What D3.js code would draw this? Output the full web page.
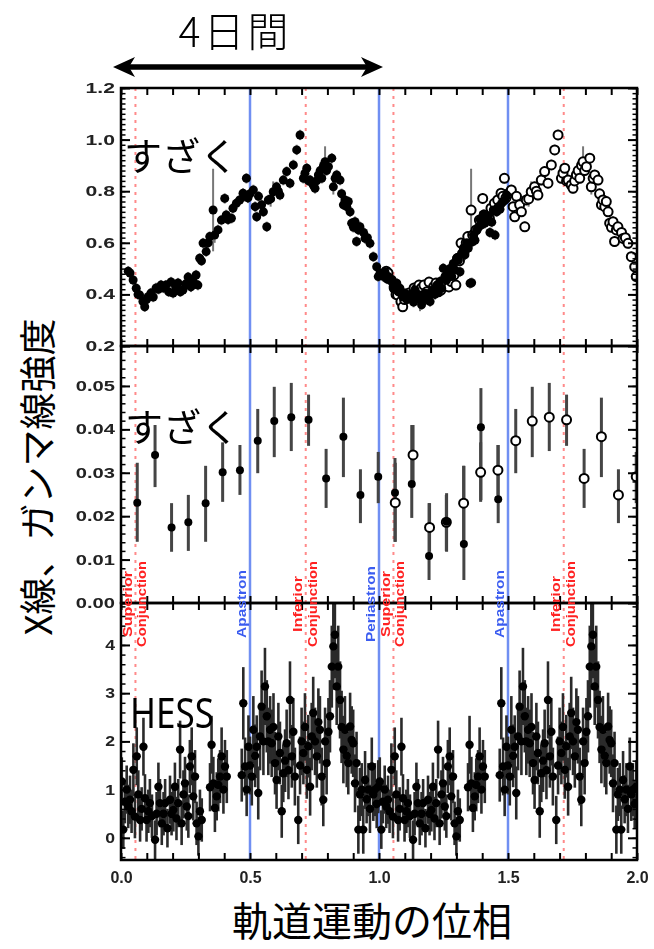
<!DOCTYPE html>
<html lang="ja">
<head>
<meta charset="UTF-8">
<title>すざく・HESS 軌道位相</title>
<script src="https://cdn.jsdelivr.net/npm/d3@7"></script>
<style>
  body { margin: 0; background: #fff; }
  svg { display: block; }
  .jp { font-family: "Noto Sans CJK JP", sans-serif; fill: #000; }
  .tick text { font-family: "Liberation Sans", Arial, sans-serif; font-weight: bold; fill: #222; }
  .ylab .tick text { font-size: 14px; }
  .xlab .tick text { font-size: 16px; }
  .domain { display: none; }
  .ev { font-family: "Liberation Sans", Arial, sans-serif; font-weight: bold; font-size: 12.5px; }
</style>
</head>
<body>
<div id="chart"></div>
<script>
  // tick values
  const phaseTicks = [0, 0.5, 1, 1.5, 2];
  const topTicks = [0.2, 0.4, 0.6, 0.8, 1.0, 1.2];
  const midTicks = [0, 0.01, 0.02, 0.03, 0.04, 0.05];
  const botTicks = [0, 1, 2, 3, 4];

  // orbital events: phase, label lines, colour kind
  const events = [
    {phase: 0.056, lines: ['Superior', 'Conjunction'], kind: 'conj'},
    {phase: 0.5,   lines: ['Apastron'], kind: 'apsis'},
    {phase: 0.716, lines: ['Inferior', 'Conjunction'], kind: 'conj'},
    {phase: 1.0,   lines: ['Periastron'], kind: 'apsis'},
    {phase: 1.056, lines: ['Superior', 'Conjunction'], kind: 'conj'},
    {phase: 1.5,   lines: ['Apastron'], kind: 'apsis'},
    {phase: 1.716, lines: ['Inferior', 'Conjunction'], kind: 'conj'}
  ];

  // Suzaku X-ray (top), first orbit: [phase, rate, err]
  const suzakuTop1 = [
    [0.028,0.49,0.02],[0.035,0.483,0.02],[0.047,0.456,0.02],[0.059,0.424,0.02],[0.066,0.40,0.02],
    [0.072,0.398,0.02],[0.085,0.372,0.02],[0.092,0.352,0.02],[0.099,0.38,0.02],[0.105,0.391,0.02],
    [0.116,0.405,0.02],[0.125,0.39,0.02],[0.136,0.425,0.02],[0.145,0.42,0.02],[0.155,0.436,0.02],
    [0.165,0.425,0.02],[0.174,0.436,0.02],[0.185,0.41,0.02],[0.194,0.448,0.02],[0.202,0.405,0.02],
    [0.212,0.43,0.02],[0.221,0.444,0.02],[0.230,0.41,0.02],[0.240,0.417,0.02],[0.250,0.44,0.02],
    [0.260,0.467,0.02],[0.271,0.429,0.02],[0.280,0.45,0.02],[0.291,0.475,0.02],[0.298,0.436,0.02],
    [0.305,0.54,0.02],[0.312,0.53,0.02],[0.318,0.599,0.02],[0.330,0.566,0.02],[0.338,0.60,0.02],
    [0.344,0.624,0.02],[0.357,0.727,0.16],[0.363,0.630,0.03],[0.376,0.650,0.02],[0.389,0.688,0.02],
    [0.402,0.772,0.02],[0.408,0.708,0.02],[0.415,0.69,0.02],[0.428,0.695,0.02],[0.434,0.734,0.02],
    [0.447,0.753,0.02],[0.460,0.766,0.02],[0.473,0.792,0.02],[0.480,0.78,0.02],[0.486,0.850,0.02],
    [0.492,0.774,0.02],[0.500,0.79,0.02],[0.513,0.805,0.02],[0.520,0.74,0.02],[0.526,0.701,0.02],
    [0.533,0.78,0.02],[0.545,0.747,0.02],[0.552,0.72,0.02],[0.565,0.662,0.02],[0.571,0.766,0.02],
    [0.580,0.77,0.03],[0.590,0.798,0.04],[0.603,0.817,0.02],[0.610,0.80,0.02],[0.616,0.785,0.02],
    [0.629,0.843,0.02],[0.642,0.876,0.02],[0.655,0.831,0.02],[0.668,0.902,0.02],[0.681,0.960,0.02],
    [0.694,1.018,0.02],[0.707,0.850,0.02],[0.713,0.87,0.02],[0.720,0.889,0.02],[0.727,0.84,0.02],
    [0.733,0.843,0.02],[0.745,0.824,0.02],[0.752,0.811,0.02],[0.758,0.84,0.02],[0.765,0.863,0.02],
    [0.772,0.88,0.02],[0.778,0.850,0.02],[0.785,0.90,0.02],[0.791,0.914,0.06],[0.797,0.88,0.02],
    [0.804,0.895,0.02],[0.817,0.928,0.02],[0.823,0.817,0.03],[0.830,0.85,0.02],[0.836,0.863,0.02],
    [0.849,0.843,0.02],[0.855,0.79,0.02],[0.862,0.747,0.02],[0.868,0.766,0.02],[0.875,0.74,0.02],
    [0.881,0.760,0.02],[0.888,0.72,0.02],[0.894,0.676,0.02],[0.901,0.66,0.02],[0.907,0.682,0.02],
    [0.913,0.605,0.02],[0.920,0.65,0.02],[0.926,0.662,0.02],[0.940,0.64,0.02],[0.946,0.617,0.02],
    [0.955,0.62,0.02],[0.965,0.598,0.02],[0.978,0.546,0.02],[0.991,0.507,0.02],[0.997,0.469,0.02]
  ];

  // Suzaku X-ray (top), second orbit
  const suzakuTop2 = [
    [1.004,0.482,0.02],[1.016,0.47,0.02],[1.023,0.488,0.02],[1.030,0.46,0.02],[1.036,0.469,0.02],
    [1.049,0.456,0.02],[1.055,0.43,0.02],[1.062,0.42,0.02],[1.069,0.443,0.02],[1.075,0.41,0.02],
    [1.081,0.424,0.02],[1.088,0.40,0.02],[1.094,0.39,0.02],[1.101,0.404,0.02],[1.108,0.38,0.02],
    [1.114,0.385,0.02],[1.120,0.40,0.02],[1.127,0.398,0.02],[1.134,0.37,0.02],[1.140,0.417,0.02],
    [1.146,0.39,0.02],[1.152,0.40,0.02],[1.159,0.385,0.05],[1.165,0.36,0.02],[1.172,0.39,0.02],
    [1.178,0.404,0.02],[1.185,0.38,0.02],[1.191,0.40,0.03],[1.198,0.372,0.02],[1.204,0.410,0.02],
    [1.211,0.42,0.02],[1.217,0.40,0.02],[1.224,0.436,0.02],[1.230,0.41,0.02],[1.236,0.45,0.02],
    [1.243,0.424,0.02],[1.249,0.501,0.02],[1.256,0.47,0.02],[1.262,0.456,0.02],[1.269,0.48,0.02],
    [1.275,0.50,0.02],[1.282,0.469,0.02],[1.288,0.52,0.02],[1.295,0.495,0.02],[1.301,0.54,0.02],
    [1.308,0.533,0.02],[1.314,0.488,0.02],[1.320,0.56,0.02],[1.327,0.58,0.02],[1.333,0.553,0.02],
    [1.340,0.60,0.02],[1.346,0.58,0.02],[1.353,0.443,0.02],[1.359,0.445,0.02],[1.362,0.604,0.02],
    [1.366,0.63,0.02],[1.372,0.61,0.02],[1.379,0.650,0.02],[1.385,0.66,0.02],[1.392,0.69,0.02],
    [1.398,0.67,0.02],[1.404,0.71,0.02],[1.411,0.676,0.02],[1.417,0.69,0.02],[1.424,0.701,0.02],
    [1.430,0.64,0.02],[1.437,0.68,0.02],[1.443,0.727,0.02],[1.450,0.630,0.02],[1.456,0.72,0.02],
    [1.462,0.740,0.02],[1.469,0.73,0.02],[1.475,0.753,0.02],[1.482,0.76,0.02],[1.488,0.766,0.02],
    [1.495,0.785,0.02]
  ];

  // Suzaku hard band (middle): [phase, value, low, high]
  const suzakuMid1 = [
    [0.063,0.0231,0.0141,0.0323],[0.132,0.0341,0.0267,0.0410],[0.196,0.0174,0.0118,0.0230],
    [0.261,0.0186,0.0120,0.0249],[0.328,0.0230,0.0141,0.0316],[0.394,0.0301,0.0233,0.0370],
    [0.461,0.0306,0.0249,0.0364],[0.530,0.0374,0.0299,0.0447],[0.594,0.0419,0.0336,0.0498],
    [0.660,0.0428,0.0350,0.0507],[0.727,0.0422,0.0362,0.0480],[0.795,0.0287,0.0219,0.0355],
    [0.862,0.0383,0.0290,0.0473],[0.928,0.0249,0.0184,0.0308],[0.997,0.0291,0.0230,0.0348]
  ];
  const suzakuMid2 = [
    [1.062,0.0254,0.0141,0.0334],[1.127,0.0274,0.0196,0.0410],[1.194,0.0108,0.0053,0.0230],
    [1.262,0.0187,0.0118,0.0253],[1.329,0.0136,0.0053,0.0316],[1.395,0.0405,0.0237,0.0495],
    [1.462,0.0239,0.0184,0.0364]
  ];

  // HESS (bottom), one orbit: [phase, flux, err]
  const hess = [
    [0.003,1.17,0.5],[0.009,0.17,0.4],[0.015,0.75,0.45],[0.022,1.0,0.5],[0.028,0.65,0.45],
    [0.035,0.79,0.5],[0.041,0.55,0.45],[0.048,1.41,0.55],[0.054,0.44,0.45],[0.061,1.69,0.6],
    [0.067,0.9,0.5],[0.074,0.37,0.45],[0.080,0.6,0.45],[0.087,1.89,0.6],[0.093,0.82,0.5],
    [0.099,0.37,0.45],[0.106,0.55,0.45],[0.112,0.72,0.5],[0.120,0.45,0.45],[0.132,-0.04,0.4],
    [0.138,0.5,0.45],[0.145,1.06,0.5],[0.151,0.72,0.5],[0.158,0.30,0.45],[0.165,0.5,0.45],
    [0.171,0.72,0.5],[0.180,0.2,0.4],[0.190,0.79,0.5],[0.196,0.5,0.45],[0.203,0.58,0.45],
    [0.209,1.06,0.5],[0.215,0.4,0.45],[0.222,0.72,0.5],[0.229,1.83,0.6],[0.235,0.30,0.45],
    [0.242,0.9,0.5],[0.248,1.13,0.55],[0.255,0.65,0.5],[0.261,0.45,0.45],[0.267,1.48,0.55],
    [0.274,1.69,0.6],[0.280,0.86,0.5],[0.287,1.27,0.55],[0.293,0.30,0.45],[0.300,0.03,0.4],
    [0.306,0.55,0.45],[0.313,0.37,0.45],[0.345,1.05,0.5],[0.351,1.93,0.6],[0.358,1.13,0.55],
    [0.364,0.62,0.5],[0.371,0.86,0.5],[0.377,1.1,0.55],[0.384,1.27,0.55],[0.390,1.69,0.6],
    [0.397,1.0,0.5],[0.403,1.48,0.55],[0.410,1.27,0.55],[0.468,1.3,0.55],[0.474,2.79,0.75],
    [0.481,1.48,0.6],[0.487,1.0,0.55],[0.494,1.89,0.65],[0.500,1.5,0.6],[0.507,1.27,0.6],
    [0.513,2.24,0.7],[0.520,1.7,0.65],[0.526,1.89,0.65],[0.532,0.93,0.55],[0.539,2.10,0.7],
    [0.545,2.72,0.75],[0.552,2.0,0.7],[0.558,3.14,0.8],[0.565,2.52,0.75],[0.571,2.0,0.7],
    [0.578,2.24,0.7],[0.584,1.96,0.7],[0.591,2.3,0.7],[0.597,1.55,0.65],[0.603,1.2,0.6],
    [0.610,2.10,0.7],[0.616,1.76,0.65],[0.623,0.55,0.55],[0.629,1.34,0.6],[0.636,1.6,0.65],
    [0.642,1.96,0.7],[0.649,1.4,0.6],[0.655,2.86,0.8],[0.662,1.69,0.65],[0.668,2.2,0.7],
    [0.674,1.27,0.6],[0.687,0.37,0.5],[0.694,1.5,0.6],[0.700,2.0,0.7],[0.707,1.76,0.65],
    [0.713,2.3,0.7],[0.720,1.41,0.6],[0.726,1.9,0.65],[0.733,1.06,0.6],[0.739,2.10,0.7],
    [0.745,2.59,0.75],[0.752,2.0,0.7],[0.759,1.69,0.65],[0.765,2.4,0.7],[0.771,2.24,0.7],
    [0.778,1.27,0.6],[0.784,0.79,0.55],[0.791,2.0,0.7],[0.797,1.55,0.65],[0.804,2.2,0.7],
    [0.810,2.52,0.75],[0.817,3.55,0.85],[0.823,3.97,0.9],[0.829,4.21,0.9],[0.836,3.14,0.8],
    [0.842,3.55,0.85],[0.849,2.86,0.8],[0.855,2.3,0.75],[0.862,1.83,0.7],[0.868,2.24,0.7],
    [0.875,1.7,0.65],[0.881,1.55,0.65],[0.888,2.31,0.7],[0.894,2.03,0.7],[0.900,1.96,0.7],
    [0.907,1.13,0.6],[0.913,1.55,0.65],[0.920,0.17,0.5],[0.926,0.9,0.55],[0.933,1.0,0.55],
    [0.939,0.17,0.5],[0.946,1.2,0.6],[0.952,0.8,0.5],[0.959,1.0,0.55],[0.965,0.6,0.5],
    [0.972,1.48,0.6],[0.978,0.9,0.55],[0.984,1.0,0.55],[0.991,0.7,0.5],[0.997,1.06,0.55]
  ];

  const W = 654, H = 949;
  const x = d3.scaleLinear().domain([0, 2]).range([121, 637]);
  const yTop = d3.scaleLinear().domain([0.2, 1.2]).range([346, 88]);
  const yMid = d3.scaleLinear().domain([0, 0.0592]).range([603, 346]);
  const yBot = d3.scaleLinear().domain([-0.46, 4.87]).range([860, 603]);

  const panels = [
    {name: 'top', y: yTop, major: topTicks, step: 0.02, fmt: d3.format('.1f')},
    {name: 'mid', y: yMid, major: midTicks, step: 0.002, fmt: d3.format('.2f')},
    {name: 'bot', y: yBot, major: botTicks, step: 0.2, fmt: d3.format('d')}
  ];

  // folded copy of the first orbit, one phase later
  const shift = d => [d[0] + 1].concat(d.slice(1));
  const hessAll = hess.concat(hess.map(shift));

  const svg = d3.select('#chart').append('svg').attr('width', W).attr('height', H);
  const defs = svg.append('defs');
  defs.append('filter').attr('id', 'soft')
    .append('feGaussianBlur').attr('stdDeviation', 0.55);
  panels.forEach(p => {
    const [y0, y1] = p.y.range();
    defs.append('clipPath').attr('id', 'clip-' + p.name)
      .append('rect').attr('x', x(0)).attr('y', y1).attr('width', x(2) - x(0)).attr('height', y0 - y1);
  });

  const plot = svg.append('g').attr('filter', 'url(#soft)');

  // event lines
  const yTopPx = yTop.range()[1], yBotPx = yBot.range()[0];
  plot.append('g').selectAll('line').data(events).join('line')
    .attr('x1', d => x(d.phase)).attr('x2', d => x(d.phase))
    .attr('y1', yTopPx).attr('y2', yBotPx)
    .attr('stroke', d => d.kind === 'apsis' ? '#6f8ff2' : '#ff8a8a')
    .attr('stroke-width', d => d.kind === 'apsis' ? 2.5 : 2)
    .attr('stroke-dasharray', d => d.kind === 'apsis' ? null : '3,5');

  // ---- top panel
  const gTop = plot.append('g').attr('clip-path', 'url(#clip-top)');
  const topFilled = suzakuTop1.concat(suzakuTop2);
  const topOpen = suzakuTop1.map(shift);
  gTop.append('g').selectAll('line').data(topFilled.concat(topOpen)).join('line')
    .attr('x1', d => x(d[0])).attr('x2', d => x(d[0]))
    .attr('y1', d => yTop(d[1] - d[2])).attr('y2', d => yTop(d[1] + d[2]))
    .attr('stroke', '#777').attr('stroke-width', 2);
  gTop.append('g').selectAll('circle').data(topOpen).join('circle')
    .attr('cx', d => x(d[0])).attr('cy', d => yTop(d[1])).attr('r', 4.5)
    .attr('fill', '#fff').attr('stroke', '#000').attr('stroke-width', 2);
  gTop.append('g').selectAll('circle').data(topFilled).join('circle')
    .attr('cx', d => x(d[0])).attr('cy', d => yTop(d[1])).attr('r', 4.5)
    .attr('fill', '#000');

  // ---- middle panel
  const gMid = plot.append('g').attr('clip-path', 'url(#clip-mid)');
  const midFilled = suzakuMid1.concat(suzakuMid2);
  const midOpen = suzakuMid1.map(shift);
  gMid.append('g').selectAll('line').data(midFilled.concat(midOpen)).join('line')
    .attr('x1', d => x(d[0])).attr('x2', d => x(d[0]))
    .attr('y1', d => yMid(d[2])).attr('y2', d => yMid(d[3]))
    .attr('stroke', '#444').attr('stroke-width', 3);
  gMid.append('g').selectAll('circle').data(midOpen).join('circle')
    .attr('cx', d => x(d[0])).attr('cy', d => yMid(d[1])).attr('r', 4.5)
    .attr('fill', '#fff').attr('stroke', '#000').attr('stroke-width', 2);
  gMid.append('g').selectAll('circle').data(midFilled).join('circle')
    .attr('cx', d => x(d[0])).attr('cy', d => yMid(d[1])).attr('r', 4)
    .attr('fill', '#000');

  // ---- bottom panel
  const gBot = plot.append('g').attr('clip-path', 'url(#clip-bot)');
  gBot.append('g').selectAll('line').data(hessAll).join('line')
    .attr('x1', d => x(d[0])).attr('x2', d => x(d[0]))
    .attr('y1', d => yBot(d[1] - d[2])).attr('y2', d => yBot(d[1] + d[2]))
    .attr('stroke', '#2a2a2a').attr('stroke-width', 2.6);
  gBot.append('g').selectAll('circle').data(hessAll).join('circle')
    .attr('cx', d => x(d[0])).attr('cy', d => yBot(d[1])).attr('r', 4.2)
    .attr('fill', '#000');

  // ---- axes and frames
  const minorOf = (scale, step) => {
    const [d0, d1] = scale.domain();
    return d3.range(Math.ceil(d0 / step - 1e-6), Math.floor(d1 / step + 1e-6) + 1).map(i => +(i * step).toFixed(4));
  };
  const xMinor = minorOf(x, 0.1);

  panels.forEach(p => {
    const [yb, yt] = p.y.range();
    plot.append('g').attr('class', 'ylab').attr('transform', `translate(${x(0)},0)`)
      .call(d3.axisLeft(p.y).tickValues(p.major).tickSize(-9).tickPadding(6).tickFormat(p.fmt))
      .call(g => g.selectAll('.tick line').attr('stroke', '#000').attr('stroke-width', 2))
      .call(g => g.selectAll('.tick text')
        .attr('textLength', d => p.fmt(d).length * 9.8)
        .attr('lengthAdjust', 'spacingAndGlyphs'));
    plot.append('g').attr('transform', `translate(${x(0)},0)`)
      .call(d3.axisLeft(p.y).tickValues(minorOf(p.y, p.step)).tickSize(-4.5).tickFormat(''))
      .call(g => g.selectAll('.tick line').attr('stroke', '#000').attr('stroke-width', 1.5));
    plot.append('g').attr('transform', `translate(${x(2)},0)`)
      .call(d3.axisRight(p.y).tickValues(p.major).tickSize(-9).tickFormat(''))
      .call(g => g.selectAll('.tick line').attr('stroke', '#000').attr('stroke-width', 2));
    plot.append('g').attr('transform', `translate(${x(2)},0)`)
      .call(d3.axisRight(p.y).tickValues(minorOf(p.y, p.step)).tickSize(-4.5).tickFormat(''))
      .call(g => g.selectAll('.tick line').attr('stroke', '#000').attr('stroke-width', 1.5));
    plot.append('g').attr('transform', `translate(0,${yt})`)
      .call(d3.axisTop(x).tickValues(xMinor).tickSize(-7).tickFormat(''))
      .call(g => g.selectAll('.tick line').attr('stroke', '#000').attr('stroke-width', 2));
    plot.append('g').attr('transform', `translate(0,${yb})`)
      .call(d3.axisBottom(x).tickValues(xMinor).tickSize(-7).tickFormat(''))
      .call(g => g.selectAll('.tick line').attr('stroke', '#000').attr('stroke-width', 2));
    plot.append('rect')
      .attr('x', x(0)).attr('y', yt).attr('width', x(2) - x(0)).attr('height', yb - yt)
      .attr('fill', 'none').attr('stroke', '#000').attr('stroke-width', 2.5);
  });

  plot.append('g').attr('class', 'xlab').attr('transform', `translate(0,${yBot.range()[0]})`)
    .call(d3.axisBottom(x).tickValues(phaseTicks).tickSize(0).tickPadding(12).tickFormat(d3.format('.1f')));

  // event labels, rotated, centred on the middle/bottom boundary
  const evLab = plot.append('g');
  events.forEach(ev => {
    const col = ev.kind === 'apsis' ? '#3a5cf0' : '#ff2020';
    const offs = ev.lines.length === 2 ? [-7.5, 7] : [-8];
    ev.lines.forEach((t, k) => {
      evLab.append('text').attr('class', 'ev')
        .attr('transform', `translate(${x(ev.phase) + offs[k]},${yMid.range()[0] + 1}) rotate(-90)`)
        .attr('text-anchor', 'middle').attr('dominant-baseline', 'central')
        .attr('fill', col)
        .attr('textLength', {Superior: 66, Conjunction: 86, Inferior: 56, Apastron: 68, Periastron: 76}[t])
        .attr('lengthAdjust', 'spacingAndGlyphs')
        .text(t);
    });
  });

  // ---- annotations
  svg.append('text').attr('class', 'jp').attr('x', 124).attr('y', 170)
    .attr('font-size', 38).text('すざく');
  svg.append('text').attr('class', 'jp').attr('x', 125).attr('y', 441)
    .attr('font-size', 38).text('すざく');
  svg.append('text').attr('x', 130).attr('y', 728)
    .attr('font-family', '"Noto Sans", sans-serif').attr('font-size', 42)
    .attr('textLength', 84).attr('lengthAdjust', 'spacingAndGlyphs').text('HESS');

  // 4-day arrow
  const arr = svg.append('g');
  const ax0 = 113, ax1 = 383, ay = 67;
  arr.append('line').attr('x1', ax0 + 14).attr('x2', ax1 - 14).attr('y1', ay).attr('y2', ay)
    .attr('stroke', '#000').attr('stroke-width', 5.5);
  arr.append('path').attr('d', `M${ax0},${ay} L${ax0 + 22},${ay - 10} L${ax0 + 16},${ay} L${ax0 + 22},${ay + 10} Z`);
  arr.append('path').attr('d', `M${ax1},${ay} L${ax1 - 22},${ay - 10} L${ax1 - 16},${ay} L${ax1 - 22},${ay + 10} Z`);
  svg.append('text').attr('class', 'jp').attr('x', 235).attr('y', 47)
    .attr('text-anchor', 'middle').attr('font-size', 41).attr('font-weight', 300)
    .attr('letter-spacing', 3).text('4日間');

  // axis titles
  svg.append('text').attr('class', 'jp')
    .attr('transform', 'translate(52,477) rotate(-90)')
    .attr('text-anchor', 'middle').attr('font-size', 37).text('X線、ガンマ線強度');
  svg.append('text').attr('class', 'jp').attr('x', 372).attr('y', 936)
    .attr('text-anchor', 'middle').attr('font-size', 40).text('軌道運動の位相');
</script>
</body>
</html>
